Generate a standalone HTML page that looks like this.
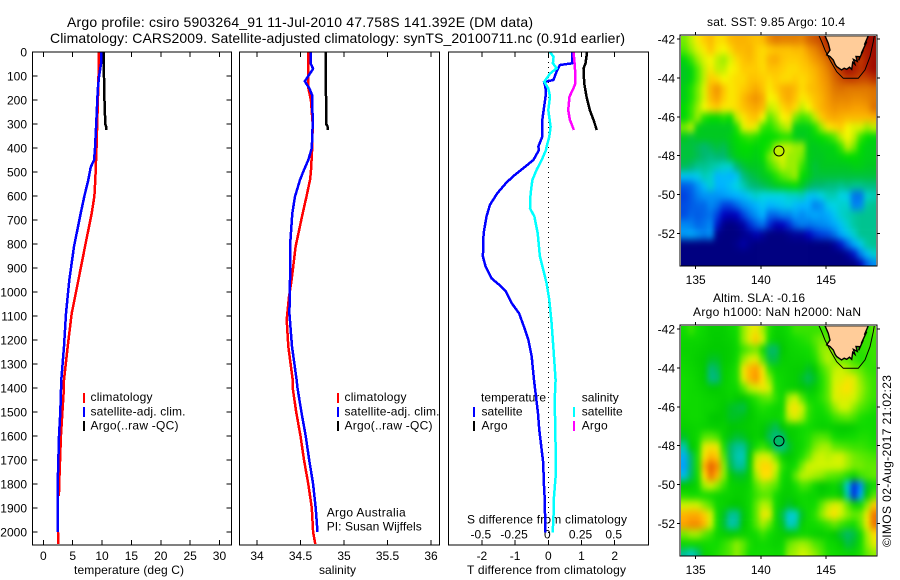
<!DOCTYPE html>
<html>
<head>
<meta charset="utf-8">
<title>Argo profile</title>
<style>
html,body{margin:0;padding:0;background:#fff;}
svg{display:block;}
text{font-family:"Liberation Sans",sans-serif;font-size:12px;fill:#000;}
.ttl{font-size:14px;}
</style>
</head>
<body>
<svg id="chart" xmlns="http://www.w3.org/2000/svg" width="900" height="580" viewBox="0 0 900 580">
  <defs>
    <filter id="soft" x="-5%" y="-5%" width="110%" height="110%" color-interpolation-filters="sRGB"><feGaussianBlur stdDeviation="2.6 3.8"/></filter>
    <clipPath id="clipTop"><rect x="681" y="36" width="195" height="230"/></clipPath>
    <clipPath id="clipBottom"><rect x="681" y="326" width="195" height="230"/></clipPath>
  </defs>
  <rect width="900" height="580" fill="#fff"/>
  <text class="ttl" x="67" y="27" textLength="466" lengthAdjust="spacing">Argo profile: csiro 5903264_91 11-Jul-2010 47.758S 141.392E (DM data)</text>
  <text class="ttl" x="50" y="43" textLength="575" lengthAdjust="spacing">Climatology: CARS2009. Satellite-adjusted climatology: synTS_20100711.nc (0.91d earlier)</text>

  <text x="74" y="574" textLength="110" lengthAdjust="spacing">temperature (deg C)</text>
  <text x="319" y="574" textLength="37" lengthAdjust="spacing">salinity</text>
  <text x="467" y="574" textLength="159" lengthAdjust="spacing">T difference from climatology</text>
  <text x="467" y="523.5" textLength="160" lengthAdjust="spacing">S difference from climatology</text>

  <text x="90.5" y="401" textLength="62" lengthAdjust="spacing">climatology</text>
  <text x="90.5" y="415.5" textLength="95" lengthAdjust="spacing">satellite-adj. clim.</text>
  <text x="90.5" y="429.5" textLength="88" lengthAdjust="spacing">Argo(..raw -QC)</text>
  <text x="344.5" y="401" textLength="62" lengthAdjust="spacing">climatology</text>
  <text x="344.5" y="415.5" textLength="95" lengthAdjust="spacing">satellite-adj. clim.</text>
  <text x="344.5" y="429.5" textLength="88" lengthAdjust="spacing">Argo(..raw -QC)</text>
  <text x="326.7" y="516.5" textLength="79" lengthAdjust="spacing">Argo Australia</text>
  <text x="326.7" y="530.5" textLength="95" lengthAdjust="spacing">PI: Susan Wijffels</text>

  <text x="481" y="401.5" textLength="65" lengthAdjust="spacing">temperature</text>
  <text x="481.5" y="415.5" textLength="41" lengthAdjust="spacing">satellite</text>
  <text x="481.5" y="429.5" textLength="26" lengthAdjust="spacing">Argo</text>
  <text x="581.7" y="401.5" textLength="37" lengthAdjust="spacing">salinity</text>
  <text x="581.7" y="415.5" textLength="41" lengthAdjust="spacing">satellite</text>
  <text x="581.7" y="429.5" textLength="26" lengthAdjust="spacing">Argo</text>

  <text x="707" y="26" textLength="138" lengthAdjust="spacing">sat. SST: 9.85 Argo: 10.4</text>
  <text x="713" y="302" textLength="92" lengthAdjust="spacing">Altim. SLA: -0.16</text>
  <text x="693" y="316" textLength="168" lengthAdjust="spacing">Argo h1000: NaN h2000: NaN</text>
  <text transform="translate(891,547) rotate(-90)" x="0" y="0" textLength="172" lengthAdjust="spacing">©IMOS 02-Aug-2017 21:02:23</text>
</svg>

<script>
/* ---------- profile data (pressure in dbar) ---------- */
const tempClimDepth = [0,100,200,400,500,533,600,672,811,950,1089,1227,1366,1400,1500,1600,1800,1850];
const tempClimValue = [9.4,9.4,9.3,9.05,8.9,8.86,8.7,8.24,7.1,5.97,4.83,4.15,3.53,3.5,3.25,3.0,2.7,2.65];
const tempClimDeepDepth = [2000,2050];
const tempClimDeepValue = [2.5,2.55];
const tempSatDepth = [0,50,100,150,200,300,400,450,480,533,600,672,811,950,1089,1227,1366,1500,1600,1800,2000];
const tempSatValue = [9.83,9.83,9.5,9.3,9.2,9.0,8.8,8.65,8.07,7.67,7.0,6.37,5.23,4.43,3.87,3.53,3.07,2.9,2.67,2.45,2.45];
const tempArgoDepth = [0,155,300,310,325];
const tempArgoValue = [10.3,10.35,10.55,10.7,10.7];

const salClimDepth = [0,100,150,200,300,400,500,533,600,672,811,950,1019,1116,1227,1366,1400,1500,1600,1700,1800,1900,2000,2050];
const salClimValue = [34.59,34.59,34.59,34.62,34.64,34.635,34.62,34.609,34.57,34.525,34.444,34.398,34.368,34.341,34.36,34.41,34.41,34.45,34.5,34.54,34.59,34.63,34.645,34.67];
const salSatDepth = [0,50,70,100,122,150,180,300,400,450,500,533,602,672,811,950,1089,1227,1366,1400,1500,1600,1700,1800,1900,2000];
const salSatValue = [34.62,34.62,34.645,34.59,34.55,34.6,34.635,34.64,34.63,34.59,34.53,34.494,34.437,34.406,34.379,34.379,34.372,34.402,34.455,34.465,34.51,34.56,34.6,34.645,34.675,34.695];
const salArgoDepth = [0,300,310,325];
const salArgoValue = [34.79,34.795,34.81,34.815];

const diffTempSatDepth = [0,47,54,82,117,124,144,172,283,353,394,408,450,478,519,547,589,637,686,755,852,894,943,970,998,1047,1089,1158,1200,1269,1367,1436,1506,1575,1645,1714,1784,1853,1923,2003];
const diffTempSatValue = [0.72,0.72,0.35,0.25,0.15,-0.13,-0.09,-0.07,-0.18,-0.18,-0.3,-0.28,-0.45,-0.7,-1.07,-1.28,-1.54,-1.76,-1.86,-1.95,-1.97,-1.89,-1.71,-1.48,-1.28,-1.1,-0.88,-0.7,-0.6,-0.5,-0.43,-0.37,-0.31,-0.27,-0.21,-0.15,-0.14,-0.11,-0.1,-0.1];
const diffTempArgoDepth = [0,47,68,130,186,242,283,325];
const diffTempArgoValue = [1.17,1.12,1.06,1.08,1.15,1.25,1.36,1.46];
const diffSalSatDepth = [0,20,47,68,90,124,152,186,242,311,353,394,408,450,491,533,589,651,686,755,852,908,964,1033,1130,1246,1367,1450,1645,1770,1853,1923,2003];
const diffSalSatValue = [0.0125,0.04,0.035,0.063,0.0125,-0.03,0,0.0125,0,0.0175,0.0075,-0.0125,-0.0176,-0.05,-0.088,-0.12,-0.133,-0.138,-0.105,-0.08,-0.063,-0.038,-0.0125,0.0075,0.025,0.04,0.055,0.048,0.055,0.055,0.043,0.04,0.033];
const diffSalArgoDepth = [0,61,130,151,186,242,283,325];
const diffSalArgoValue = [0.19,0.2,0.205,0.19,0.16,0.15,0.163,0.193];

/* ---------- tick labels ---------- */
const depthTicks = [0,100,200,300,400,500,600,700,800,900,1000,1100,1200,1300,1400,1500,1600,1700,1800,1900,2000];
const tempTicks = [0,5,10,15,20,25,30];
const salTicks = [34,34.5,35,35.5,36];
const salTickLabels = ['34','34.5','35','35.5','36'];
const diffTTicks = [-2,-1,0,1,2];
const diffSTicks = [-0.5,-0.25,0,0.25,0.5];
const diffSTickLabels = ['-0.5','-0.25','0','0.25','0.5'];
const lonTicks = [135,140,145];
const latTicks = [-42,-44,-46,-48,-50,-52];

/* ---------- map data: 0.5 degree cells, north to south, west to east ---------- */
const sstGrid = [
[10.0,10.2,10.5,10.7,10.9,10.6,10.6,10.9,11,11,10.9,10.8,10.9,11.5,11.8,11.7,11.7,11.7,11.6,12,12.2,12.4,12.8,12.8,12.8,12.8,12.8,12.8,13,13],
[9.9,10.1,10.3,10.5,10.8,10.5,10.4,10.6,10.9,10.9,11,10.7,10.6,10.7,10.8,10.8,10.8,10.9,10.9,11.3,11.6,12,12.5,12.8,12.8,12.8,12.8,12.8,12.8,13],
[9.5,9.8,10.1,10.3,10.4,10.2,10.1,10.3,10.6,10.8,10.9,10.7,10.6,11,11.1,10.8,10.7,10.7,10.8,11,11.3,11.6,12,12.5,12.8,12.8,12.8,12.5,12.8,13],
[9.3,9.5,9.9,10.2,10.5,10.2,10.2,10.4,10.5,10.7,10.7,10.7,10.6,10.8,10.8,10.7,10.6,10.6,10.7,10.8,11,11.3,11.7,12.2,12.6,13,12.8,12.6,12.8,13],
[9.3,9.5,9.9,10.2,10.7,10.6,10.4,10.5,10.6,10.6,10.8,10.8,10.7,10.6,10.7,10.6,10.6,10.7,10.6,10.7,10.9,11.2,11.5,12,12.3,12.5,12.5,12.4,12.4,12.6],
[9.4,9.7,10,10.3,11,11.4,10.8,10.5,10.6,10.7,10.9,11.1,10.8,10.5,10.7,11,11.1,10.9,10.6,10.8,10.9,11.1,11.4,11.8,11.9,11.8,11.8,11.8,11.8,11.9],
[9.4,9.7,10,10.3,10.9,11.2,10.7,10.5,10.6,10.9,11.2,11.4,11.1,10.4,10.5,10.9,11.1,10.8,10.5,10.6,10.8,11,11.3,11.6,11.6,11.6,11.5,11.5,11.6,11.8],
[9.6,9.8,10.1,10.4,10.6,10.7,10.5,10.5,10.6,10.8,11,11.1,10.9,10.2,10.3,10.6,10.8,10.6,10.2,10.4,10.7,11,11.2,11.4,11.3,11.3,11.2,11.2,11.3,11.9],
[9.5,9.8,10.1,9.7,9.6,9.6,9.7,9.6,10.2,10.5,10.7,10.8,10.4,9.9,10.1,10.4,10.5,10,9.8,9.9,10.2,10.7,11,11.1,11,10.9,10.9,10.9,10.9,11],
[10,10.2,9.4,9.3,9.3,9.3,9.3,9.3,9.7,10.3,10.5,10.3,9.8,9.7,9.9,10.1,10.2,9.4,9.4,9.4,9.7,10.1,10.5,10.6,10.7,10.4,10.3,10.3,10.1,10.2],
[9.3,9.2,9.3,9.3,9.3,9.3,9.3,9.4,9.6,9.7,9.8,9.7,9.6,9.6,9.6,9.7,9.7,9.4,9.3,9.4,9.5,9.6,9.7,9.9,10.2,10.4,10.2,9.8,9.6,9.5],
[9.2,9.2,9.1,9,9.1,9.2,9.1,9.3,9.5,9.6,9.6,9.5,9.6,9.7,10.1,10.2,10.2,10.1,10.1,9.4,9.3,9.4,9.4,9.5,9.8,10.2,10,9.6,9.4,9.4],
[9.2,9.2,9.1,9,8.9,9,9,9.2,9.4,9.5,9.5,9.4,9.6,10,10.2,10.3,10.1,10.1,10,9.4,9.3,9.3,9.4,9.4,9.5,9.6,9.6,9.5,9.4,9.4],
[9.1,9,8.8,8.8,8.7,8.6,8.5,8.5,9,9.2,9.3,9.3,9.4,9.8,10,10.2,10.1,10.1,9.8,9.4,9.2,9.3,9.3,9.3,9.3,9.3,9.4,9.4,9.3,9.3],
[8.2,8.2,8.3,8.6,8.5,8,8.1,8,8.2,8.9,9.1,9.2,9.3,9.4,9.7,9.9,10,10.1,9.6,9.4,9.2,9.2,9.2,9.2,9.2,9.2,9.2,9.2,9.2,9.2],
[7.2,7.3,7.7,8.1,8.5,8,8,8.2,8.4,8.6,8.9,9,9.1,9.2,9.3,9.4,9.5,9.6,9.3,9.1,9,9,8.9,8.9,8.8,8.9,8.8,8.8,8.9,8.9],
[7,7.2,7.5,7.7,7.7,7.7,7.8,7.9,8,8.1,8.3,8.5,8.4,8.4,8.4,8.4,8.5,8.5,8.6,8.2,8.2,8.4,8.6,8.6,8.4,8.3,7.4,7.4,8.5,8.6],
[7.1,7.2,7.3,7.3,7.6,7.4,7,7,7.3,7.6,7.8,8,8.2,8,8.1,8.2,8.3,8.1,8,8,7.5,7.7,8.3,8.4,8.5,8.5,7.5,7.6,8.7,8.8],
[7.1,7.3,7.2,7.3,7.4,7,6.7,6.6,6.7,7,7.4,7.7,8,7.3,7.3,7.5,7.5,7.8,7.6,7.8,7.9,7.8,7.9,8.2,8.5,8.6,8.7,8.8,8.8,8.8],
[7.6,7.5,7.3,7.4,7.6,6.8,6.3,6.2,6.3,6.5,6.9,7.2,7.4,6.9,6.6,6.7,6.9,7.3,7.5,7.4,7.5,7.6,7.7,7.9,8.2,8.5,8.7,8.8,8.8,8.8],
[7.8,7.9,7.7,7.5,7.7,6.3,6.2,6.2,6.2,6.3,6.4,6.6,6.4,6.2,6.2,6.2,6.3,6.4,6.4,6.7,6.9,7,7.1,7.4,7.9,8.2,8.5,8.8,8.8,8.8],
[6.2,6.2,6.2,6.2,6.2,6.2,6.2,6.2,6.3,6.5,6.3,6.2,6.2,6.2,6.2,6.2,6.2,6.2,6.2,6.2,6.2,6.2,6.2,6.4,6.8,7.3,7.9,8.3,8.7,8.8],
[6.2,6.2,6.2,6.2,6.2,6.2,6.2,6.2,6.2,6.2,6.2,6.2,6.2,6.2,6.2,6.2,6.2,6.2,6.2,6.2,6.2,6.2,6.2,6.2,6.2,6.4,6.8,7.5,8.1,8.5],
[6.2,6.2,6.2,6.2,6.2,6.2,6.2,6.2,6.2,6.2,6.2,6.2,6.2,6.2,6.2,6.2,6.2,6.2,6.2,6.2,6.2,6.2,6.2,6.2,6.2,6.2,6.2,6.6,7.2,7.6]
];
const slaGrid = [
[-.03,0,-.03,-.05,-.08,-.08,-.08,-.05,-.03,.05,.09,.12,.06,-.02,-.07,-.06,-.03,0,0,0,0,0,0,0,0,0,0,0,-.02,.03],
[-.05,-.05,-.05,-.06,-.08,-.09,-.08,-.07,-.04,.05,.11,.16,.08,-.03,-.08,-.08,-.05,-.03,-.02,-.01,.02,.04,.02,0,0,0,0,0,0,0],
[-.06,-.06,-.07,-.08,-.09,-.09,-.09,-.08,-.05,0,.03,.04,-.04,-.16,-.16,-.1,-.06,-.05,-.04,-.03,0,.05,.06,.04,0,0,0,-.01,0,0],
[-.05,-.06,-.08,-.09,-.12,-.12,-.09,-.08,-.04,.05,.09,.10,.02,-.14,-.14,-.08,-.07,-.06,-.06,-.05,-.02,.04,.07,.05,.03,.03,0,-.02,-.01,0],
[-.04,-.05,-.07,-.09,-.17,-.15,-.08,-.06,-.02,.12,.18,.2,.12,-.01,-.06,-.06,-.07,-.08,-.08,-.12,-.09,0,.04,.07,.08,.06,.04,.03,0,-.01],
[-.03,-.04,-.06,-.09,-.18,-.17,-.08,-.05,-.02,.1,.18,.21,.14,.05,-.03,-.05,-.07,-.08,-.12,-.15,-.12,-.02,.03,.08,.09,.12,.1,.05,.02,0],
[-.03,-.04,-.05,-.07,-.09,-.09,-.07,-.05,-.04,.02,.07,.09,.12,.08,-.02,-.05,-.07,-.08,-.1,-.11,-.08,-.02,.03,.09,.12,.14,.1,.06,.03,0],
[-.03,-.04,-.04,-.05,-.06,-.07,-.08,-.06,-.09,-.1,-.05,-.01,.02,.03,-.01,-.05,.06,.08,.02,-.04,-.04,-.01,.03,.09,.1,.1,.08,.05,.02,0],
[-.04,-.04,-.04,-.05,-.05,-.07,-.09,-.12,-.13,-.14,-.09,-.04,-.02,-.03,-.05,-.05,.1,.13,.08,0,-.03,-.03,0,.05,.08,.08,.05,.02,0,-.02],
[-.05,-.04,-.04,-.05,-.09,-.1,-.09,-.12,-.12,-.11,-.09,-.06,-.05,-.05,-.06,-.03,.07,.1,.06,-.01,-.04,-.05,-.03,0,.02,.03,.01,-.02,-.03,-.04],
[-.07,-.06,-.05,-.06,-.07,-.08,-.07,-.1,-.1,-.09,-.08,-.07,-.09,-.12,-.15,-.1,-.07,-.06,-.04,-.03,-.05,-.07,-.07,-.08,-.09,-.09,-.07,-.04,-.03,-.04],
[-.12,-.07,-.04,.02,.03,.01,-.07,-.11,-.13,-.12,-.09,-.07,-.1,-.15,-.18,-.17,-.09,-.07,-.04,-.02,.01,.02,.01,-.03,-.05,-.04,-.03,-.02,-.02,-.03],
[-.22,-.1,-.04,.1,.13,.11,-.02,-.16,-.2,-.2,-.12,-.03,0,-.05,-.17,-.19,-.13,-.07,-.05,-.01,.04,.06,.06,.03,.02,.01,0,0,-.01,-.02],
[-.3,-.16,-.02,.13,.18,.16,.02,-.16,-.22,-.23,-.1,.07,.1,.08,.03,-.07,-.1,-.07,-.02,.03,.07,.08,.07,.08,.09,.06,.04,.03,.02,.01],
[-.32,-.16,-.02,.18,.27,.22,.05,-.14,-.2,-.2,-.08,.1,.15,.15,.08,-.01,-.06,-.03,.04,.08,.08,.08,.08,.08,.08,.06,.04,.04,.03,.03],
[-.28,-.15,-.03,.14,.24,.18,.05,-.08,-.12,-.12,-.07,.06,.14,.14,.06,-.03,-.07,.03,.07,.07,.06,.05,.03,.02,.01,-.02,-.05,0,.02,.03],
[-.1,-.09,-.05,.06,.08,.05,0,-.06,-.07,-.08,-.05,.02,.05,.04,.02,-.05,-.08,-.03,.01,0,-.05,-.1,-.08,-.05,-.12,-.26,-.6,-.34,-.12,-.04],
[-.02,-.03,-.03,-.03,-.04,-.05,-.06,-.06,-.08,-.07,-.04,0,.02,.02,-.03,-.08,-.08,-.06,-.04,-.05,-.05,-.08,-.06,-.05,-.1,-.22,-.52,-.3,-.1,.02],
[.08,.09,.08,.05,.02,-.05,-.06,-.09,-.1,-.08,-.04,.03,.07,.06,-.04,-.09,-.12,-.1,-.05,-.04,-.03,.03,.07,.1,.08,.03,-.04,-.04,.05,.16],
[.18,.19,.19,.16,.09,-.03,-.12,-.2,-.2,-.11,-.04,.03,.12,.1,-.05,-.14,-.26,-.25,-.12,-.04,-.01,.05,.1,.14,.08,.05,.03,.04,.12,.24],
[.2,.22,.22,.18,.08,-.03,-.13,-.22,-.2,-.1,-.04,.02,.06,.03,-.05,-.12,-.24,-.22,-.08,-.04,-.03,-.02,0,.03,0,-.02,-.03,.03,.12,.24],
[.04,.06,.06,.03,0,-.05,-.07,-.09,-.08,-.06,-.05,-.03,0,-.03,-.06,-.08,-.1,-.08,-.05,-.05,-.07,-.08,-.07,-.1,-.13,-.16,-.14,-.04,.06,.14],
[-.05,-.05,-.05,-.04,-.03,-.03,-.01,.02,.05,.03,-.02,-.05,-.04,-.05,-.07,-.05,.03,.05,.06,.05,.02,0,-.04,-.05,-.09,-.14,-.12,-.03,.05,.1],
[-.2,-.24,-.18,-.06,-.04,-.02,0,.02,.05,.02,-.03,-.03,-.03,-.03,-.04,-.03,.05,.06,.08,.07,.05,.02,-.02,-.03,-.04,-.05,-.05,-.02,.03,.05]
];
const sstScale = [6.2,6.7,7.0,7.5,8.0,8.4,8.7,9.0,9.3,9.6,9.9,10.2,10.4,10.7,11.2,11.8,12.4,12.9,13.4];
const sstColours = ['#000080','#0000c0','#0040e0','#0080f0','#00b4ff','#00d4e4','#00c8a0','#00b870','#00c820','#00dc00','#50ea00','#c0f000','#f8f800','#ffcc00','#f8a000','#e07800','#c84800','#a81000','#800000'];
const slaScale = [-0.42,-0.32,-0.25,-0.17,-0.10,-0.03,0.03,0.08,0.14,0.20,0.26];
const slaColours = ['#0030e0','#00a0ff','#00d0d0','#00b878','#00c800','#10dc00','#60ea00','#d0f400','#ffe000','#ffa000','#e86000'];
const cellLonStart = 133.9;
const cellLatStart = -41.8;
const cellLonStep = 0.5;
const cellLatStep = 0.5;

const coastLon = [144.92,145.18,145.31,145.05,145.3,145.56,145.7,145.82,146.0,146.2,146.4,146.59,146.8,146.97,147.05,147.22,147.1,147.4,147.3,147.61,147.5,147.86,147.7,148.12,147.95,148.25];
const coastLat = [-41.83,-42.22,-42.57,-42.82,-42.9,-43.08,-43.3,-43.42,-43.5,-43.59,-43.5,-43.56,-43.45,-43.56,-43.2,-43.3,-43.05,-43.15,-42.9,-42.91,-43.1,-42.57,-42.75,-42.14,-42.3,-41.83];
const contourLon = [144.46,144.67,144.92,145.31,145.82,146.33,147.48,147.99,148.38,148.63,148.71];
const contourLat = [-41.83,-42.14,-42.57,-43.08,-43.68,-44.02,-44.02,-43.59,-42.91,-42.14,-41.83];
const argoLon = 141.392;
const argoLat = -47.758;
const argoSst = 10.2;
const argoSla = -0.16;

/* ---------- axis functions ---------- */
const depthY = d => 52 + d * 0.24;
const tempX = t => 43.3 + t * 5.873;
const salX = s => 257 + (s - 34) * 87;
const diffTX = v => 548.3 + v * 33.2;
const diffSX = v => 548.3 + v * 132.8;
const lonX = l => 695.7 + (l - 135) * 13.03;
const latYTop = l => 39 + (-42 - l) * 19.45;
const latYBottom = l => 329 + (-42 - l) * 19.45;

const NS = 'http://www.w3.org/2000/svg';
const svg = document.getElementById('chart');

function make(tag, attrs, parent) {
  const el = document.createElementNS(NS, tag);
  for (const k in attrs) el.setAttribute(k, attrs[k]);
  (parent || svg).appendChild(el);
  return el;
}
function frame(name, x, y, w, h) {
  const el = make('rect', {x: x, y: y, width: w, height: h, fill: 'none', stroke: '#000', 'stroke-width': 1, 'shape-rendering': 'crispEdges'});
  
  
}
function seg(name, x1, y1, x2, y2) {
  const el = make('line', {x1: x1, y1: y1, x2: x2, y2: y2, stroke: '#000', 'stroke-width': 1, 'shape-rendering': 'crispEdges'});
  
  
  return el;
}
function label(name, x, y, s, anchor) {
  const el = make('text', {x: x, y: y, 'text-anchor': anchor});
  el.textContent = s;
  
  
  return el;
}
function profile(name, xs, ds, xFn, colour) {
  const pts = xs.map((v, i) => xFn(v).toFixed(1) + ',' + depthY(ds[i]).toFixed(1)).join(' ');
  const el = make('polyline', {points: pts, fill: 'none', stroke: colour, 'stroke-width': 2.5, 'stroke-linejoin': 'round', 'shape-rendering': 'crispEdges'});
  
  
}
function legendMark(name, x, y, colour) {
  const el = make('rect', {x: x - 1, y: y, width: 2, height: 10, fill: colour, 'shape-rendering': 'crispEdges'});
  
  
}

/* ---------- profile panels ---------- */
const panelTop = 52, panelBottom = 545;
depthTicks.forEach(d => {
  const y = depthY(d);
  label('depth-tick-label', 27, y + 4.5, String(d), 'end');
  seg('depth-tick-left', 32.5, y, 37.5, y);
  seg('depth-tick-right', 226.5, y, 231.5, y);
});
tempTicks.forEach(t => {
  seg('temperature-tick-bottom', tempX(t), panelBottom, tempX(t), panelBottom - 5);
  seg('temperature-tick-top', tempX(t), panelTop, tempX(t), panelTop + 5);
  label('temperature-tick-label', tempX(t), 560, String(t), 'middle');
});
salTicks.forEach((s, i) => {
  seg('salinity-tick-bottom', salX(s), panelBottom, salX(s), panelBottom - 5);
  seg('salinity-tick-top', salX(s), panelTop, salX(s), panelTop + 5);
  label('salinity-tick-label', salX(s), 560, salTickLabels[i], 'middle');
});
diffTTicks.forEach(v => {
  seg('t-difference-tick-bottom', diffTX(v), panelBottom, diffTX(v), panelBottom - 5);
  seg('t-difference-tick-top', diffTX(v), panelTop, diffTX(v), panelTop + 5);
  label('t-difference-tick-label', diffTX(v), 560, String(v), 'middle');
});
diffSTicks.forEach((v, i) => {
  label('s-difference-tick-label', diffSX(v) - 1, 538.5, diffSTickLabels[i], 'middle');
});
const zeroLine = seg('zero-difference-line', diffTX(0), panelTop, diffTX(0), panelBottom);
zeroLine.setAttribute('stroke-dasharray', '1 4');

profile('temperature-argo-line', tempArgoValue, tempArgoDepth, tempX, '#000');
profile('temperature-climatology-line', tempClimValue, tempClimDepth, tempX, '#f00');
profile('temperature-climatology-deep-line', tempClimDeepValue, tempClimDeepDepth, tempX, '#f00');
profile('temperature-satellite-line', tempSatValue, tempSatDepth, tempX, '#00f');

profile('salinity-argo-line', salArgoValue, salArgoDepth, salX, '#000');
profile('salinity-climatology-line', salClimValue, salClimDepth, salX, '#f00');
profile('salinity-satellite-line', salSatValue, salSatDepth, salX, '#00f');

profile('t-difference-argo-line', diffTempArgoValue, diffTempArgoDepth, diffTX, '#000');
profile('t-difference-satellite-line', diffTempSatValue, diffTempSatDepth, diffTX, '#00f');
profile('s-difference-argo-line', diffSalArgoValue, diffSalArgoDepth, diffSX, '#f0f');
profile('s-difference-satellite-line', diffSalSatValue, diffSalSatDepth, diffSX, '#0ff');

frame('temperature-panel-frame', 32.5, panelTop, 199, panelBottom - panelTop);
frame('salinity-panel-frame', 239.5, panelTop, 200, panelBottom - panelTop);
frame('difference-panel-frame', 448.5, panelTop, 200, panelBottom - panelTop);

legendMark('temp-legend-climatology-mark', 84, 393, '#f00');
legendMark('temp-legend-satellite-mark', 84, 407, '#00f');
legendMark('temp-legend-argo-mark', 84, 421, '#000');
legendMark('sal-legend-climatology-mark', 338, 393, '#f00');
legendMark('sal-legend-satellite-mark', 338, 407, '#00f');
legendMark('sal-legend-argo-mark', 338, 421, '#000');
legendMark('diff-legend-temp-satellite-mark', 474, 407, '#00f');
legendMark('diff-legend-temp-argo-mark', 474, 421, '#000');
legendMark('diff-legend-sal-satellite-mark', 574, 407, '#0ff');
legendMark('diff-legend-sal-argo-mark', 574, 421, '#f0f');

/* ---------- maps ---------- */
function hex(c) { return [1, 3, 5].map(i => parseInt(c.substr(i, 2), 16)); }
function colourFor(v, scale, colours) {
  if (v <= scale[0]) return colours[0];
  for (let i = 1; i < scale.length; i++) {
    if (v <= scale[i]) {
      const f = (v - scale[i - 1]) / (scale[i] - scale[i - 1]);
      const a = hex(colours[i - 1]), b = hex(colours[i]);
      return 'rgb(' + a.map((p, k) => Math.round(p + (b[k] - p) * f)).join(',') + ')';
    }
  }
  return colours[colours.length - 1];
}
function drawMap(prefix, grid, scale, colours, latY, clipId, frameTop, markerColour) {
  const clip = make('g', {'clip-path': 'url(#' + clipId + ')'});
  
  
  const cells = make('g', {filter: 'url(#soft)'}, clip);
  
  
  grid.forEach((row, r) => {
    row.forEach((v, c) => {
      let x0 = lonX(cellLonStart + c * cellLonStep);
      let x1 = lonX(cellLonStart + (c + 1) * cellLonStep);
      let y0 = latY(cellLatStart - r * cellLatStep);
      let y1 = latY(cellLatStart - (r + 1) * cellLatStep);
      if (c === 0) x0 -= 14;
      if (c === row.length - 1) x1 += 14;
      if (r === 0) y0 -= 14;
      if (r === grid.length - 1) y1 += 14;
      const cell = make('rect', {x: x0.toFixed(2), y: y0.toFixed(2), width: (x1 - x0 + 0.3).toFixed(2), height: (y1 - y0 + 0.3).toFixed(2), fill: colourFor(v, scale, colours)}, cells);
      
      
    });
  });
  const coastPts = coastLon.map((l, i) => lonX(l).toFixed(1) + ',' + latY(coastLat[i]).toFixed(1)).join(' ');
  const land = make('polygon', {points: coastPts, fill: '#ffcc99', stroke: '#000', 'stroke-width': 1.4}, clip);
  
  
  const contourPts = contourLon.map((l, i) => lonX(l).toFixed(1) + ',' + latY(contourLat[i]).toFixed(1)).join(' ');
  const contour = make('polyline', {points: contourPts, fill: 'none', stroke: '#000', 'stroke-width': 1}, clip);
  
  
  const marker = make('circle', {cx: lonX(argoLon), cy: latY(argoLat), r: 5, fill: markerColour, stroke: '#000', 'stroke-width': 1}, clip);
  
  

  frame(prefix + '-map-frame', 680, frameTop, 197, 231);
  lonTicks.forEach(l => {
    seg(prefix + '-lon-tick-top', lonX(l), frameTop, lonX(l), frameTop - 3);
    seg(prefix + '-lon-tick-bottom', lonX(l), frameTop + 231, lonX(l), frameTop + 234);
    label(prefix + '-lon-tick-label', lonX(l), frameTop + 249, String(l), 'middle');
  });
  latTicks.forEach(l => {
    seg(prefix + '-lat-tick-left', 680, latY(l), 677, latY(l));
    seg(prefix + '-lat-tick-right', 877, latY(l), 880, latY(l));
    label(prefix + '-lat-tick-label', 675, latY(l) + 4.5, String(l), 'end');
  });
}
drawMap('sst', sstGrid, sstScale, sstColours, latYTop, 'clipTop', 35, colourFor(argoSst, sstScale, sstColours));
drawMap('sla', slaGrid, slaScale, slaColours, latYBottom, 'clipBottom', 325, colourFor(argoSla, slaScale, slaColours));
</script>
</body>
</html>
